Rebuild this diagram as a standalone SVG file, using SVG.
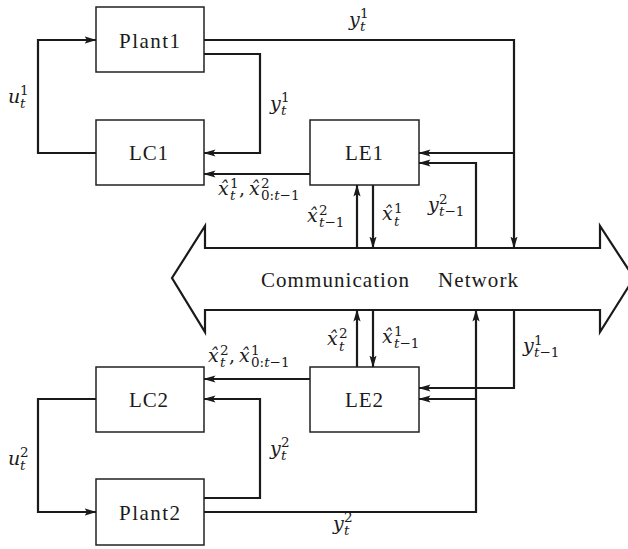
<svg xmlns="http://www.w3.org/2000/svg" width="628" height="549" viewBox="0 0 628 549">
<style>
.box{fill:#fff;stroke:#222;stroke-width:1.5}
.c{fill:none;stroke:#1a1a1a;stroke-width:2.2;stroke-linejoin:miter}
.a{marker-end:url(#ah)}
.t{font-family:'Liberation Serif','DejaVu Serif',serif;font-size:21px;fill:#1a1a1a}
.m{font-family:'DejaVu Serif','Liberation Serif',serif;font-style:italic;font-size:19px;fill:#1a1a1a}
.s{font-size:13.5px}
.r{font-style:normal}
</style>
<defs>
<marker id="ah" markerUnits="userSpaceOnUse" viewBox="0 -5 12 10" refX="11.5" refY="0" markerWidth="12" markerHeight="10" orient="auto">
<path d="M0,-3.6 L12,0 L0,3.6 L2.6,0 Z" fill="#1a1a1a"/>
</marker>
</defs>
<rect width="628" height="549" fill="#fff"/>

<g id="network">
<polygon points="205,248 205,226 172,278 205,332 205,310 600,310 600,332 634,278 600,226 600,248" fill="#fff" stroke="#1a1a1a" stroke-width="2.2"/>
<text class="t" x="261" y="287" textLength="148" lengthAdjust="spacing">Communication</text>
<text class="t" x="438" y="287" textLength="80" lengthAdjust="spacing">Network</text>
</g>

<g id="plant1"><rect class="box" x="96" y="7" width="108" height="65"/><text class="t" x="119" y="48" textLength="61" lengthAdjust="spacing">Plant1</text></g>
<g id="lc1"><rect class="box" x="96" y="120" width="108" height="65"/><text class="t" x="129" y="160" textLength="39" lengthAdjust="spacing">LC1</text></g>
<g id="le1"><rect class="box" x="310" y="120" width="109" height="65"/><text class="t" x="345" y="160" textLength="38" lengthAdjust="spacing">LE1</text></g>
<g id="lc2"><rect class="box" x="96" y="367" width="108" height="65"/><text class="t" x="129" y="407" textLength="39" lengthAdjust="spacing">LC2</text></g>
<g id="le2"><rect class="box" x="310" y="367" width="109" height="65"/><text class="t" x="345" y="407" textLength="38" lengthAdjust="spacing">LE2</text></g>
<g id="plant2"><rect class="box" x="96" y="479" width="108" height="66"/><text class="t" x="119" y="520" textLength="61" lengthAdjust="spacing">Plant2</text></g>

<g id="connectors">
<polyline class="c a" points="96,153 38,153 38,40 96,40"/>
<polyline class="c a" points="204,40 514,40 514,248"/>
<polyline class="c a" points="514,153 419,153"/>
<polyline class="c a" points="204,54 260,54 260,153 204,153"/>
<polyline class="c a" points="310,174 204,174"/>
<polyline class="c a" points="357,248 357,185"/>
<polyline class="c a" points="373,185 373,248"/>
<polyline class="c a" points="476,248 476,163 419,163"/>

<polyline class="c a" points="96,399 38,399 38,512 96,512"/>
<polyline class="c a" points="204,512 476,512 476,310"/>
<polyline class="c a" points="476,399 419,399"/>
<polyline class="c a" points="204,498 260,498 260,399 204,399"/>
<polyline class="c a" points="310,379 204,379"/>
<polyline class="c a" points="357,367 357,310"/>
<polyline class="c a" points="373,310 373,367"/>
<polyline class="c a" points="514,310 514,388 419,388"/>
</g>

<g id="labels">
<text class="m" x="349" y="26">y<tspan class="s r" x="360" y="18">1</tspan><tspan class="s" x="360" y="31">t</tspan></text>
<text class="m" x="270" y="110">y<tspan class="s r" x="281" y="102">1</tspan><tspan class="s" x="281" y="115">t</tspan></text>
<text class="m" x="8" y="103">u<tspan class="s r" x="20" y="95">1</tspan><tspan class="s" x="20" y="108">t</tspan></text>
<text class="m" x="218" y="195">x̂<tspan class="s r" x="230" y="188">1</tspan><tspan class="s" x="230" y="200">t</tspan><tspan class="r" x="239" y="195">,</tspan><tspan x="249" y="195">x̂</tspan><tspan class="s r" x="261" y="188">2</tspan><tspan class="s" x="261" y="200"><tspan class="r">0:</tspan>t<tspan class="r">−1</tspan></tspan></text>
<text class="m" x="307" y="222">x̂<tspan class="s r" x="319" y="215">2</tspan><tspan class="s" x="319" y="227">t<tspan class="r">−1</tspan></tspan></text>
<text class="m" x="382" y="220">x̂<tspan class="s r" x="394" y="213">1</tspan><tspan class="s" x="394" y="226">t</tspan></text>
<text class="m" x="428" y="211">y<tspan class="s r" x="439" y="204">2</tspan><tspan class="s" x="439" y="216">t<tspan class="r">−1</tspan></tspan></text>
<text class="m" x="327" y="345">x̂<tspan class="s r" x="339" y="338">2</tspan><tspan class="s" x="339" y="351">t</tspan></text>
<text class="m" x="382" y="343">x̂<tspan class="s r" x="394" y="336">1</tspan><tspan class="s" x="394" y="348">t<tspan class="r">−1</tspan></tspan></text>
<text class="m" x="523" y="352">y<tspan class="s r" x="534" y="345">1</tspan><tspan class="s" x="534" y="357">t<tspan class="r">−1</tspan></tspan></text>
<text class="m" x="208" y="362">x̂<tspan class="s r" x="220" y="355">2</tspan><tspan class="s" x="220" y="367">t</tspan><tspan class="r" x="229" y="362">,</tspan><tspan x="239" y="362">x̂</tspan><tspan class="s r" x="251" y="355">1</tspan><tspan class="s" x="251" y="367"><tspan class="r">0:</tspan>t<tspan class="r">−1</tspan></tspan></text>
<text class="m" x="8" y="465">u<tspan class="s r" x="20" y="457">2</tspan><tspan class="s" x="20" y="470">t</tspan></text>
<text class="m" x="270" y="455">y<tspan class="s r" x="281" y="447">2</tspan><tspan class="s" x="281" y="460">t</tspan></text>
<text class="m" x="333" y="530">y<tspan class="s r" x="344" y="522">2</tspan><tspan class="s" x="344" y="535">t</tspan></text>
</g>
</svg>
